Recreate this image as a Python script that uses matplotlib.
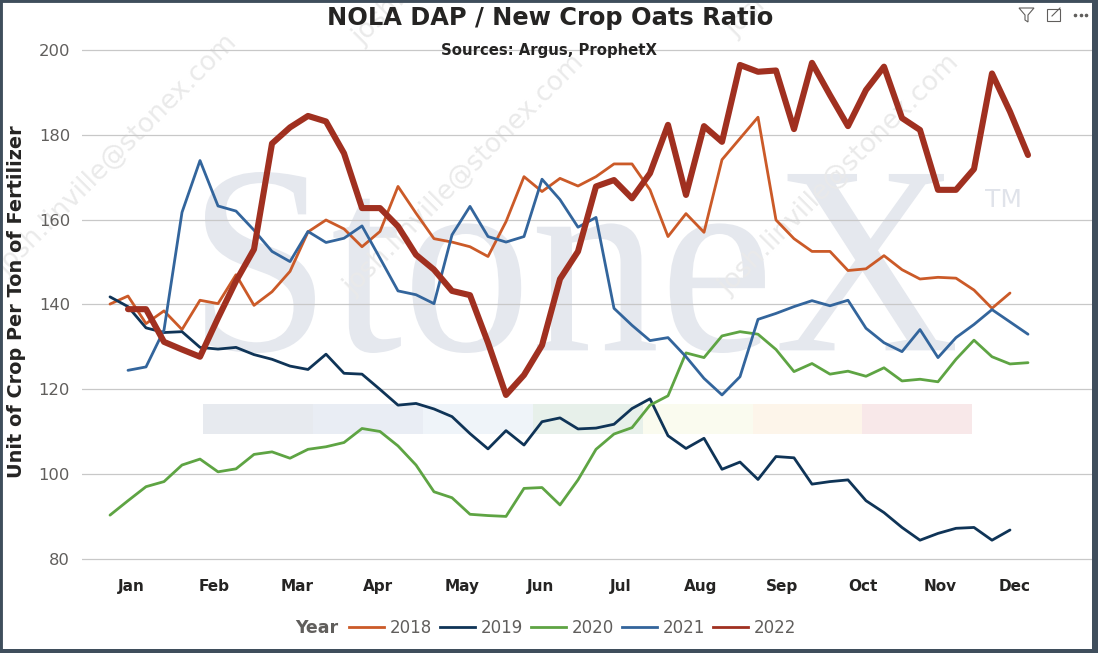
import matplotlib.pyplot as plt
from matplotlib.lines import Line2D
from matplotlib.patches import Rectangle, Polygon, PathPatch
from matplotlib.textpath import TextPath
from matplotlib.font_manager import FontProperties
from matplotlib.transforms import Affine2D

W, H = 1098, 653

# weekly ratio values (week index on x)
years = ["2018", "2019", "2020", "2021", "2022"]
colors = ["#CB5A28", "#0F3457", "#5EA443", "#33659C", "#A03020"]
widths = [2.0, 2.0, 2.0, 2.0, 4.4]
first_week = [0, 0, 0, 1, 1]

r2018 = [140.1, 142.0, 135.5, 138.5, 134.1, 141.0, 140.2, 147.0, 139.8, 143.0,
         147.8, 157.1, 159.9, 157.8, 153.6, 157.2, 167.8, 161.5, 155.5, 154.7,
         153.6, 151.3, 159.5, 170.1, 166.6, 169.7, 167.9, 170.1, 173.1, 173.1,
         167.0, 156.0, 161.4, 157.0, 174.1, 179.1, 184.1, 159.9, 155.5, 152.5,
         152.5, 148.0, 148.4, 151.5, 148.2, 146.0, 146.4, 146.2, 143.4, 139.1,
         142.7]
r2019 = [141.8, 139.5, 134.5, 133.4, 133.6, 129.9, 129.5, 129.9, 128.2, 127.1,
         125.5, 124.7, 128.3, 123.8, 123.6, 120.0, 116.3, 116.7, 115.4, 113.6,
         109.6, 106.0, 110.3, 106.9, 112.4, 113.3, 110.7, 110.9, 111.8, 115.5,
         117.8, 109.1, 106.1, 108.5, 101.2, 102.9, 98.8, 104.2, 103.9, 97.7,
         98.3, 98.7, 93.8, 91.0, 87.5, 84.5, 86.1, 87.3, 87.5, 84.5,
         86.9]
r2020 = [90.4, 93.8, 97.1, 98.3, 102.2, 103.6, 100.6, 101.3, 104.7, 105.3,
         103.8, 105.9, 106.5, 107.5, 110.8, 110.1, 106.7, 102.2, 95.9, 94.5,
         90.6, 90.3, 90.1, 96.7, 96.9, 92.8, 98.7, 105.9, 109.5, 111.0,
         116.3, 118.5, 128.6, 127.5, 132.6, 133.6, 133.0, 129.4, 124.2, 126.1,
         123.6, 124.3, 123.1, 125.1, 122.0, 122.4, 121.8, 127.1, 131.6, 127.7,
         126.0, 126.3]
r2021 = [124.5, 125.3, 134.0, 161.7, 173.9, 163.2, 162.0, 157.5, 152.5, 150.1,
         157.2, 154.6, 155.6, 158.5, 150.9, 143.2, 142.3, 140.2, 156.4, 163.1,
         156.0, 154.7, 156.0, 169.5, 164.7, 158.2, 160.5, 139.1, 135.1, 131.5,
         132.2, 127.7, 122.6, 118.7, 123.0, 136.5, 137.9, 139.5, 140.9, 139.7,
         141.0, 134.4, 131.0, 128.9, 134.1, 127.5, 132.2, 135.3, 138.8, 135.9,
         133.0]
r2022 = [138.9, 138.9, 131.2, 129.4, 127.7, 136.8, 145.5, 153.0, 177.9, 181.7,
         184.4, 183.1, 175.6, 162.7, 162.7, 158.4, 151.7, 148.2, 143.2, 142.2,
         131.0, 118.7, 123.4, 130.4, 146.0, 152.5, 167.8, 169.3, 165.0, 170.9,
         182.3, 165.8, 182.0, 178.3, 196.4, 194.8, 195.1, 181.3, 196.9, 189.3,
         182.0, 190.5, 196.0, 183.9, 181.1, 167.0, 167.0, 171.9, 194.4, 185.4,
         175.2]
series = [r2018, r2019, r2020, r2021, r2022]

month_labels = ["Jan", "Feb", "Mar", "Apr", "May", "Jun",
                "Jul", "Aug", "Sep", "Oct", "Nov", "Dec"]
month_pos = [1.16, 5.78, 10.37, 14.88, 19.57, 23.94,
             28.39, 32.81, 37.31, 41.81, 46.12, 50.25]
yticks = [80, 100, 120, 140, 160, 180, 200]

band_colors = ["#E7EAEF", "#E9EDF4", "#EFF4F9", "#E7F0EA",
               "#FAFBEF", "#FDF5EA", "#F8E8E9"]


def fx(x):
    return x / W


def fy(y):
    return 1 - y / H


fig = plt.figure(figsize=(W / 100, H / 100), dpi=100)
ax = fig.add_axes([fx(82), fy(567.8), (1092 - 82) / W, (567.8 - 32.7) / H])
ax.set_xlim(-1.556, 54.556)
ax.set_ylim(78, 204)

# watermark logo, stretched into the box it fills in the original
ftr = fig.transFigure
tp = TextPath((0, 0), "StoneX", size=1, prop=FontProperties(family="Liberation Serif"))
bb = tp.get_extents()
x0, x1, ytop, ybot = 205, 955, 172, 353
sx = (x1 - x0) / bb.width
sy = (ybot - ytop) / bb.height
logo_tr = (Affine2D().translate(-bb.x0, -bb.y0).scale(sx / 100, sy / 100)
           .translate(x0 / 100, (H - ybot) / 100) + fig.dpi_scale_trans)
logo = PathPatch(tp, transform=logo_tr, facecolor="#E5E8EE", lw=0, zorder=0.1)
logo.set_clip_on(False)
ax.add_artist(logo)
ax.text(fx(985), fy(207), "TM", transform=ftr, fontsize=18, color="#E0E3EA",
        ha="left", va="baseline", zorder=0.1)
for k, c in enumerate(band_colors):
    ax.add_patch(Rectangle((fx(203 + k * 109.9), fy(434)), 109.9 / W, 30 / H,
                           transform=ftr, color=c, lw=0, zorder=0.1,
                           clip_on=False))
for px, py in [(6, 276), (353, 296), (728, 296), (362, 46), (735, 38)]:
    ax.text(fx(px), fy(py), "josh.linville@stonex.com", transform=ftr,
            fontsize=19, color="#EAEAEA", rotation=45, rotation_mode="anchor",
            ha="left", va="baseline", zorder=0.1, clip_on=False)

for vals, c, lw, w0, lab in zip(series, colors, widths, first_week, years):
    xs = list(range(w0, w0 + len(vals)))
    ax.plot(xs, vals, color=c, lw=lw, label=lab, zorder=2,
            solid_joinstyle="round", solid_capstyle="round")

ax.set_yticks(yticks)
ax.set_xticks(month_pos)
ax.set_xticklabels(month_labels)
ax.yaxis.grid(True, color="#C8C8C8", lw=0.9)
ax.set_axisbelow(True)
for s in ax.spines.values():
    s.set_visible(False)
ax.tick_params(axis="y", length=0, pad=8.6, labelsize=11.8,
               labelcolor="#605E5C")
ax.tick_params(axis="x", length=0, pad=8, labelsize=11,
               labelcolor="#252423")
for t in ax.get_xticklabels():
    t.set_fontweight("bold")

fig.text(fx(550), fy(18), "NOLA DAP / New Crop Oats Ratio", fontsize=17.4,
         fontweight="bold", color="#252423", ha="center", va="center")
fig.text(fx(549), fy(50), "Sources: Argus, ProphetX", fontsize=10.7,
         fontweight="bold", color="#252423", ha="center", va="center")
fig.text(fx(17), fy(302), "Unit of Crop Per Ton of Fertilizer", fontsize=13.9,
         fontweight="bold", color="#252423", rotation=90,
         ha="center", va="center")

# legend
fig.text(fx(295), fy(628), "Year", fontsize=12.5, fontweight="bold",
         color="#605E5C", ha="left", va="center")
handles = [Line2D([], [], color=c, lw=2) for c in colors]
fig.legend(handles, years, loc="center left", bbox_to_anchor=(fx(349), fy(628)),
           ncol=5, frameon=False, handlelength=2.1, handletextpad=0.33,
           columnspacing=0.5, fontsize=12, labelcolor="#605E5C",
           borderpad=0, borderaxespad=0)

# header icons
icon = "#605E5C"
fig.add_artist(Polygon([(fx(1019), fy(8)), (fx(1034), fy(8)), (fx(1028), fy(15)),
                        (fx(1028), fy(22)), (fx(1025), fy(20)), (fx(1025), fy(15))],
                       closed=True, fill=False, ec=icon, lw=0.8, transform=ftr))
fig.add_artist(Rectangle((fx(1047), fy(21)), 13 / W, 12 / H, fill=False,
                         ec=icon, lw=0.8, transform=ftr))
fig.add_artist(Line2D([fx(1052), fx(1060)], [fy(16), fy(8)], color=icon,
                      lw=0.8, transform=ftr))
for dx in (1075, 1080.5, 1086):
    fig.add_artist(Line2D([fx(dx)], [fy(15)], marker="o", ms=1.6, color=icon,
                          transform=ftr))

# frame
fig.add_artist(Rectangle((0, 0), 1, 1, transform=ftr, fill=False,
                         ec="#3F4E5C", lw=3.5))
fig.add_artist(Rectangle((fx(1092), 0), 6 / W, 1, transform=ftr,
                         color="#3F4E5C", lw=0))
fig.add_artist(Rectangle((0, 0), 1, 4 / H, transform=ftr,
                         color="#3F4E5C", lw=0))

fig.savefig("out.png", dpi=100)
